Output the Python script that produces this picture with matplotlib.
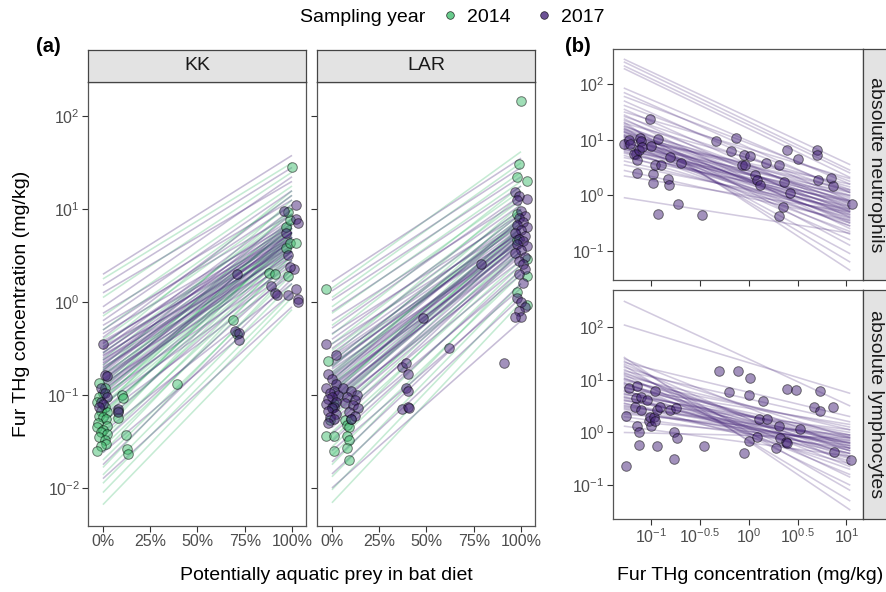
import numpy as np
import matplotlib
matplotlib.use("Agg")
import matplotlib.pyplot as plt
from matplotlib.lines import Line2D

plt.rcParams["font.family"] = "Liberation Sans"
plt.rcParams["mathtext.fontset"] = "custom"
plt.rcParams["mathtext.rm"] = "Liberation Sans"
plt.rcParams["mathtext.it"] = "Liberation Sans:italic"
plt.rcParams["mathtext.bf"] = "Liberation Sans:bold"

W, H = 887, 592
col_2014 = "#43BF71"
col_2017 = "#46257A"
grey_txt = "#4D4D4D"

# ---- (a) posterior lines: log10 THg at 0% and at 100% aquatic prey ----
kk17_left = [0.30, 0.18, 0.10, -0.05, -0.12, -0.20, -0.25, -0.30, -0.34, -0.38, -0.42, -0.45, -0.48, -0.51,
             -0.54, -0.57, -0.60, -0.62, -0.65, -0.68, -0.70, -0.73, -0.76, -0.79, -0.82, -0.85, -0.88, -0.92,
             -0.96, -1.00, -1.05, -1.10, -1.16, -1.22, -1.30, -1.40, -1.50, -1.62, -1.75, -1.90,
             -0.44, -0.50, -0.55, -0.58, -0.63, -0.66, -0.71, -0.74, -0.78, -0.83, -0.87, -0.90, -0.94, -0.99]
kk17_right = [1.58, 1.45, 1.30, 1.35, 1.10, 1.20, 0.95, 1.05, 0.85, 1.15, 0.75, 0.90, 0.70, 1.00,
              0.80, 0.65, 0.85, 0.60, 0.75, 0.95, 0.55, 0.70, 0.80, 0.50, 0.65, 0.75, 0.45, 0.60,
              0.70, 0.40, 0.55, 0.35, 0.50, 0.30, 0.45, 0.20, 0.35, 0.10, 0.25, -0.05,
              0.82, 0.74, 0.88, 0.68, 0.79, 0.62, 0.72, 0.84, 0.66, 0.58, 0.76, 0.62, 0.54, 0.68]
kk14_left = [0.25, 0.05, -0.15, -0.30, -0.40, -0.48, -0.55, -0.62, -0.68, -0.74, -0.80, -0.85, -0.90, -0.94,
             -0.98, -1.02, -1.06, -1.10, -1.14, -1.18, -1.22, -1.26, -1.30, -1.35, -1.40, -1.45, -1.50, -1.56,
             -1.62, -1.70, -1.78, -1.86, -1.95, -2.05, -2.18,
             -0.72, -0.78, -0.88, -0.96, -1.04, -1.12, -1.20]
kk14_right = [1.50, 1.40, 1.25, 1.15, 1.05, 1.20, 0.95, 1.00, 0.85, 1.10, 0.80, 0.90, 0.70, 1.00,
              0.75, 0.60, 0.85, 0.65, 0.90, 0.55, 0.70, 0.80, 0.50, 0.60, 0.75, 0.45, 0.55, 0.40,
              0.50, 0.30, 0.35, 0.20, 0.10, 0.05, -0.08,
              0.78, 0.66, 0.82, 0.62, 0.74, 0.58, 0.68]
lar17_left = [0.22, 0.12, 0.02, -0.10, -0.20, -0.28, -0.34, -0.40, -0.45, -0.50, -0.55, -0.60, -0.64, -0.68,
              -0.72, -0.76, -0.80, -0.84, -0.88, -0.92, -0.96, -1.00, -1.04, -1.08, -1.12, -1.17, -1.22, -1.28,
              -1.35, -1.42, -1.50, -1.60, -1.72, -1.85, -2.00,
              -0.58, -0.66, -0.70, -0.78, -0.82, -0.86, -0.90, -0.94, -0.98, -1.02, -1.06, -1.10, -1.15]
lar17_right = [1.55, 1.45, 1.35, 1.25, 1.10, 1.15, 0.95, 1.05, 0.85, 1.00, 0.90, 0.75, 0.95, 0.80,
               0.65, 0.85, 0.70, 0.90, 0.60, 0.75, 0.80, 0.55, 0.70, 0.65, 0.45, 0.60, 0.50, 0.40,
               0.55, 0.30, 0.35, 0.15, 0.20, 0.05, -0.20,
               0.82, 0.76, 0.88, 0.72, 0.66, 0.78, 0.62, 0.74, 0.68, 0.58, 0.70, 0.64, 0.52]
lar14_left = [0.15, 0.05, -0.05, -0.12, -0.25, -0.35, -0.45, -0.52, -0.58, -0.64, -0.70, -0.75, -0.80, -0.85,
              -0.90, -0.95, -1.00, -1.05, -1.10, -1.15, -1.20, -1.26, -1.32, -1.40, -1.48, -1.56, -1.65, -1.75,
              -1.88, -2.02, -2.16,
              -0.68, -0.78, -0.88, -0.98, -1.08]
lar14_right = [1.62, 1.50, 1.40, 1.30, 1.20, 1.25, 1.10, 1.00, 1.15, 0.95, 1.05, 0.85, 0.90, 1.00,
               0.80, 0.70, 0.90, 0.75, 0.65, 0.80, 0.55, 0.70, 0.60, 0.45, 0.55, 0.40, 0.30, 0.35,
               0.20, 0.10, 0.00,
               0.86, 0.92, 0.76, 0.82, 0.70]

# ---- (a) observed bats: proportion aquatic prey, fur THg (mg/kg) ----
kk14_x = [-0.02, 0.01, 0.00, -0.02, -0.03, 0.01, -0.01, 0.02, -0.02, 0.00, 0.015, -0.025, 0.02, -0.03,
          0.00, -0.01, 0.02, -0.02, 0.01, 0.015, -0.01, -0.03, 0.10, 0.105, 0.08, 0.08, 0.12, 0.125,
          0.13, 0.39, 0.69, 0.71, 0.88, 0.91, 0.98, 0.97, 0.99, 1.02, 0.97, 0.99, 0.98, 1.00]
kk14_y = [0.135, 0.12, 0.105, 0.095, 0.085, 0.075, 0.068, 0.065, 0.06, 0.058, 0.055, 0.05, 0.046, 0.045,
          0.042, 0.04, 0.038, 0.035, 0.033, 0.03, 0.028, 0.025, 0.10, 0.092, 0.068, 0.056, 0.037, 0.026,
          0.023, 0.13, 0.64, 0.45, 2.05, 2.0, 1.9, 3.8, 4.3, 4.3, 6.5, 7.7, 9.3, 28.5]
kk17_x = [0.00, 0.01, 0.02, -0.01, 0.01, 0.02, -0.01, 0.00, -0.02, 0.08, 0.08, 0.71, 0.70, 0.72, 0.72,
          0.89, 0.91, 0.92, 0.98, 1.02, 1.03, 1.03, 1.01, 0.99, 0.98, 0.97, 1.02, 1.03, 0.96, 1.02]
kk17_y = [0.35, 0.165, 0.16, 0.12, 0.105, 0.095, 0.085, 0.08, 0.075, 0.07, 0.066, 2.0, 0.49, 0.46, 0.39,
          1.5, 1.25, 1.2, 1.2, 1.4, 1.07, 1.0, 2.3, 2.4, 3.2, 5.6, 7.9, 7.2, 9.6, 11.0]
lar14_x = [1.00, 0.99, 0.98, 1.03, 0.98, 0.98, 1.03, 1.03, 0.98, 1.03, -0.03, -0.02, 0.00, -0.01, -0.03,
           0.01, 0.01, 0.07, 0.08, 0.09, 0.10, 0.08, 0.09, 0.08, 0.09, 0.01]
lar14_y = [145, 31, 22.5, 20, 8.9, 4.7, 2.9, 1.9, 1.3, 0.93, 1.38, 0.23, 0.074, 0.054, 0.036,
           0.036, 0.025, 0.054, 0.048, 0.045, 0.055, 0.036, 0.033, 0.027, 0.02, 0.081]
lar17_x = [0.97, 0.99, 1.03, 0.98, 1.00, 1.02, 0.99, 1.01, 0.98, 1.03, 1.00, 0.97, 1.02, 0.99, 1.01,
           0.98, 1.03, 1.00, 0.97, 1.02, 0.99, 1.01, 1.02, 0.99, 1.01, 0.98, 1.00, 1.02, 0.99, 1.00, 0.97,
           0.79, 0.48, 0.62, 0.91, -0.03, 0.02, 0.37, 0.39, 0.40, 0.39, 0.40, 0.37, 0.40, 0.41,
           -0.02, 0.00, 0.02, -0.03, 0.01, -0.01, 0.03, 0.00, -0.02, 0.02, -0.03, 0.01, 0.00, -0.02,
           0.02, -0.01, 0.01, -0.02,
           0.06, 0.10, 0.13, 0.08, 0.12, 0.07, 0.11, 0.14, 0.09, 0.12, 0.10]
lar17_y = [15.5, 14, 13, 12.5, 9.5, 8.5, 8, 7.3, 6.8, 6.5, 6.0, 5.5, 5.2, 4.8, 4.5,
           4.2, 4.0, 3.6, 3.4, 3.1, 2.8, 2.6, 2.3, 2.0, 1.6, 1.1, 1.0, 0.88, 0.8, 0.7, 0.69,
           2.6, 0.67, 0.32, 0.22, 0.35, 0.27, 0.2, 0.22, 0.17, 0.12, 0.11, 0.071, 0.074, 0.072,
           0.17, 0.15, 0.13, 0.12, 0.11, 0.105, 0.1, 0.095, 0.09, 0.085, 0.08, 0.075, 0.072, 0.068,
           0.063, 0.058, 0.055, 0.05,
           0.12, 0.11, 0.1, 0.095, 0.088, 0.082, 0.078, 0.072, 0.066, 0.06, 0.055]

# ---- (b) posterior lines: log10 immune count at low / high fur THg ----
b_line_x = [-1.28, 1.04]  # log10 fur THg range covered by the lines
neut_left = [2.45, 2.40, 2.33, 2.28, 1.93, 1.85, 1.78, 1.70, 1.62, 1.55, 1.50, 1.45, 1.42, 1.38, 1.35,
             1.32, 1.30, 1.28, 1.25, 1.22, 1.20, 1.18, 1.15, 1.13, 1.10, 1.08, 1.06, 1.04, 1.02, 1.00,
             0.98, 0.96, 0.94, 0.92, 0.90, 0.88, 0.85, 0.82, 0.80, 0.76, 0.72, 0.68, 0.62, 0.55, 0.45,
             0.35, -0.04,
             1.24, 1.19, 1.14, 1.09, 1.05, 1.01, 0.97, 0.93, 0.89, 0.86, 0.83, 0.78, 1.16, 1.07, 0.99]
neut_right = [0.55, 0.45, 0.40, 0.32, 0.20, 0.05, 0.25, -0.10, 0.10, -0.25, 0.30, -0.40, 0.05, -0.60, -0.15,
              -1.35, 0.15, -0.90, -0.30, -1.20, 0.00, -0.50, -1.05, -0.20, 0.10, -0.70, -0.35, 0.20, -0.45,
              -0.10, -0.80, -0.25, 0.05, -0.55, -0.15, -0.30, -0.65, 0.00, -0.40, -0.20, -0.50, -0.10,
              -0.35, -0.25, -0.45, -0.30, -0.68,
              -0.12, -0.28, -0.05, -0.38, -0.18, -0.02, -0.33, -0.08, -0.22, -0.42, -0.12, -0.28, -0.48, 0.08, -0.55]
lymph_left = [2.49, 2.04, 1.43, 1.40, 1.36, 1.33, 1.30, 1.27, 1.24, 1.20, 1.17, 1.14, 1.10, 1.07, 1.04,
              1.01, 0.98, 0.95, 0.92, 0.90, 0.87, 0.84, 0.81, 0.78, 0.75, 0.72, 0.69, 0.66, 0.63, 0.60,
              0.56, 0.52, 0.48, 0.44, 0.40, 0.35, 0.30, 0.22, 0.12, 0.00,
              1.12, 1.02, 0.94, 0.86, 0.79, 0.73, 0.67, 0.61, 0.55, 0.50, 0.46, 0.38]
lymph_right = [0.50, 0.74, -1.47, -0.30, -1.10, 0.30, -0.60, -1.30, -0.10, -0.85, 0.20, -0.45, -1.00, 0.05,
               -0.65, -0.25, 0.10, -0.80, -0.35, -0.05, -0.55, 0.15, -0.70, -0.20, -0.40, 0.00, -0.50,
               -0.15, -0.30, 0.05, -0.60, -0.25, -0.10, -0.40, -0.20, -0.05, -0.30, -0.15, -0.45, -0.10,
               -0.35, -0.22, -0.48, -0.12, -0.30, -0.05, -0.40, -0.18, -0.26, -0.08, -0.34, -0.20]

# ---- (b) observed bats (2017), log10 fur THg and log10 cell count ----
neut_thg = [-1.28, -1.23, -1.22, -1.11, -1.10, -1.15, -1.17, -1.14, -1.12, -1.09, -1.01, -1.00, -0.93,
            -1.14, -0.98, -0.98, -0.96, -0.90, -0.93, -0.83, -0.82, -0.81, -0.72, -0.69, -0.48, -0.34,
            -0.18, -0.13, -0.05, -0.07, -0.04, 0.015, 0.06, 0.085, 0.12, 0.18, 0.31, 0.31, 0.35, 0.36,
            0.39, 0.42, 0.50, 0.70, 0.70, 0.71, 0.84, 0.86, 1.06]
neut_cnt = [0.92, 0.99, 0.93, 1.04, 0.97, 0.74, 0.74, 0.64, 0.81, 0.87, 1.37, 0.88, 1.01,
            0.40, 0.38, 0.22, 0.54, 0.54, -0.34, 0.29, 0.18, 0.69, -0.16, 0.58, -0.35, 0.97,
            0.79, 1.03, 0.73, 0.54, 0.54, 0.70, 0.37, 0.28, 0.19, 0.58, 0.55, -0.37, -0.21, 0.24,
            0.81, 0.04, 0.66, 0.81, 0.73, 0.28, 0.32, 0.16, -0.16]
lymph_thg = [-1.26, -1.26, -1.23, -1.14, -1.15, -1.16, -1.14, -1.12, -1.12, -1.10, -1.10, -1.04, -1.02,
             -1.00, -1.01, -0.97, -0.96, -0.96, -0.94, -0.94, -0.91, -0.81, -0.77, -0.77, -0.74, -0.73,
             -0.46, -0.30, -0.20, -0.11, 0.01, 0.00, 0.00, -0.05, 0.08, 0.15, 0.11, 0.19, 0.31, 0.32,
             0.28, 0.38, 0.39, 0.39, 0.48, 0.53, 0.67, 0.73, 0.73, 0.86, 0.87, 1.05]
lymph_cnt = [0.32, -0.64, 0.84, 0.89, 0.65, 0.49, 0.13, 0.00, -0.23, 0.68, 0.43, 0.62, 0.21,
             0.12, 0.30, 0.30, 0.78, 0.21, 0.43, -0.26, 0.49, 0.43, 0.00, -0.51, 0.46, -0.10,
             -0.26, 1.16, 0.77, 1.16, 1.03, 0.71, -0.16, -0.38, -0.08, 0.60, 0.26, 0.26, 0.13, -0.11,
             -0.30, -0.19, -0.20, 0.82, 0.80, 0.06, 0.49, 0.41, 0.78, 0.49, -0.37, -0.53]


def px_axes(fig, x0, y0, x1, y1):
    return fig.add_axes([x0 / W, 1 - y1 / H, (x1 - x0) / W, (y1 - y0) / H])


def style_panel(ax):
    for s in ax.spines.values():
        s.set_color("#555555")
        s.set_linewidth(0.9)
    ax.tick_params(which="major", length=4, width=0.8, color="#333333",
                   labelcolor=grey_txt, labelsize=11.5, pad=2)
    ax.tick_params(which="minor", length=0)


def strip(fig, box, label, rotation=0):
    sax = px_axes(fig, *box)
    sax.set_facecolor("#E3E3E3")
    sax.set_xticks([])
    sax.set_yticks([])
    for s in sax.spines.values():
        s.set_color("#444444")
        s.set_linewidth(0.9)
    if rotation == 0:
        sax.text(0.5, 0.5, label, ha="center", va="center", fontsize=14, color="#1A1A1A")
    else:
        # right-hand strip, partly cut by the figure edge
        fig.text(876 / W, 1 - (box[1] + box[3]) / 2 / H, label, rotation=-90, ha="center",
                 va="center", fontsize=14, color="#1A1A1A")
    return sax


def draw_lines(ax, xs, left, right, color, alpha):
    for l, r in zip(left, right):
        ax.plot(xs, [10 ** l, 10 ** r], color=color, alpha=alpha, lw=1.15, solid_capstyle="butt")


def draw_points(ax, x, y, color):
    ax.scatter(x, y, s=48, facecolor=color, edgecolor="black", linewidth=0.7, alpha=0.5, zorder=3)


fig = plt.figure(figsize=(W / 100, H / 100), dpi=100)

# ---------------- panel (a) ----------------
a_ticks = [1e-2, 1e-1, 1, 10, 100]
a_labels = [r"$10^{-2}$", r"$10^{-1}$", r"$10^{0}$", r"$10^{1}$", r"$10^{2}$"]
sites = [
    ("KK", (88, 82, 306, 526), kk14_left, kk14_right, kk17_left, kk17_right, kk14_x, kk14_y, kk17_x, kk17_y),
    ("LAR", (317, 82, 535, 526), lar14_left, lar14_right, lar17_left, lar17_right, lar14_x, lar14_y, lar17_x, lar17_y),
]
for i, (name, box, l14, r14, l17, r17, x14, y14, x17, y17) in enumerate(sites):
    ax = px_axes(fig, *box)
    draw_lines(ax, [0, 1], l14, r14, col_2014, 0.3)
    draw_lines(ax, [0, 1], l17, r17, col_2017, 0.3)
    draw_points(ax, x14, y14, col_2014)
    draw_points(ax, x17, y17, col_2017)
    ax.set_yscale("log")
    ax.set_ylim(10 ** -2.41, 10 ** 2.37)
    ax.set_xlim(-0.079, 1.074)
    ax.set_xticks([0, 0.25, 0.5, 0.75, 1.0])
    ax.set_xticklabels(["0%", "25%", "50%", "75%", "100%"])
    ax.set_yticks(a_ticks)
    if i == 0:
        ax.set_yticklabels(a_labels)
    else:
        ax.set_yticklabels([])
        ax.tick_params(axis="y", length=0)
    ax.minorticks_off()
    style_panel(ax)
    strip(fig, (box[0], 50, box[2], 82), name)

fig.text(22 / W, 1 - 304 / H, "Fur THg concentration (mg/kg)", rotation=90, ha="center", va="center",
         fontsize=14)
fig.text(326 / W, 1 - 576 / H, "Potentially aquatic prey in bat diet", ha="center", va="center", fontsize=14)
fig.text(36 / W, 1 - 46 / H, "(a)", ha="left", va="center", fontsize=14.5, fontweight="bold")

# ---------------- panel (b) ----------------
b_panels = [
    ("absolute neutrophils", (613, 49, 863, 280), neut_left, neut_right, neut_thg, neut_cnt, (-1.52, 2.63)),
    ("absolute lymphocytes", (613, 290, 863, 519), lymph_left, lymph_right, lymph_thg, lymph_cnt, (-1.64, 2.70)),
]
for j, (name, box, left, right, px, py, ylim) in enumerate(b_panels):
    ax = px_axes(fig, *box)
    draw_lines(ax, [10 ** b_line_x[0], 10 ** b_line_x[1]], left, right, col_2017, 0.24)
    draw_points(ax, 10 ** np.array(px), 10 ** np.array(py), col_2017)
    ax.set_xscale("log")
    ax.set_yscale("log")
    ax.set_xlim(10 ** -1.39, 10 ** 1.17)
    ax.set_ylim(10 ** ylim[0], 10 ** ylim[1])
    ax.set_yticks([1e-1, 1, 10, 100])
    ax.set_yticklabels([r"$10^{-1}$", r"$10^{0}$", r"$10^{1}$", r"$10^{2}$"])
    ax.set_xticks([10 ** -1, 10 ** -0.5, 1, 10 ** 0.5, 10])
    if j == 1:
        ax.set_xticklabels([r"$10^{-1}$", r"$10^{-0.5}$", r"$10^{0}$", r"$10^{0.5}$", r"$10^{1}$"])
    else:
        ax.set_xticklabels([])
        ax.tick_params(axis="x", length=0)
    ax.minorticks_off()
    style_panel(ax)
    strip(fig, (863, box[1], 900, box[3]), name, rotation=-90)

fig.text(750 / W, 1 - 576 / H, "Fur THg concentration (mg/kg)", ha="center", va="center", fontsize=14)
fig.text(565 / W, 1 - 46 / H, "(b)", ha="left", va="center", fontsize=14.5, fontweight="bold")

# ---------------- legend ----------------
fig.text(300 / W, 1 - 17 / H, "Sampling year", ha="left", va="center", fontsize=14)
handles = [Line2D([], [], ls="", marker="o", ms=5.5, mfc=col_2014, mec="black", mew=0.5, alpha=0.8),
           Line2D([], [], ls="", marker="o", ms=5.5, mfc=col_2017, mec="black", mew=0.5, alpha=0.8)]
fig.legend(handles, ["2014", "2017"], ncol=2, loc="center left", bbox_to_anchor=(440 / W, 1 - 17 / H),
           frameon=False, fontsize=14, handletextpad=0.4, columnspacing=1.2, handlelength=1.0,
           borderpad=0, borderaxespad=0)

fig.savefig("out.png", dpi=100)
